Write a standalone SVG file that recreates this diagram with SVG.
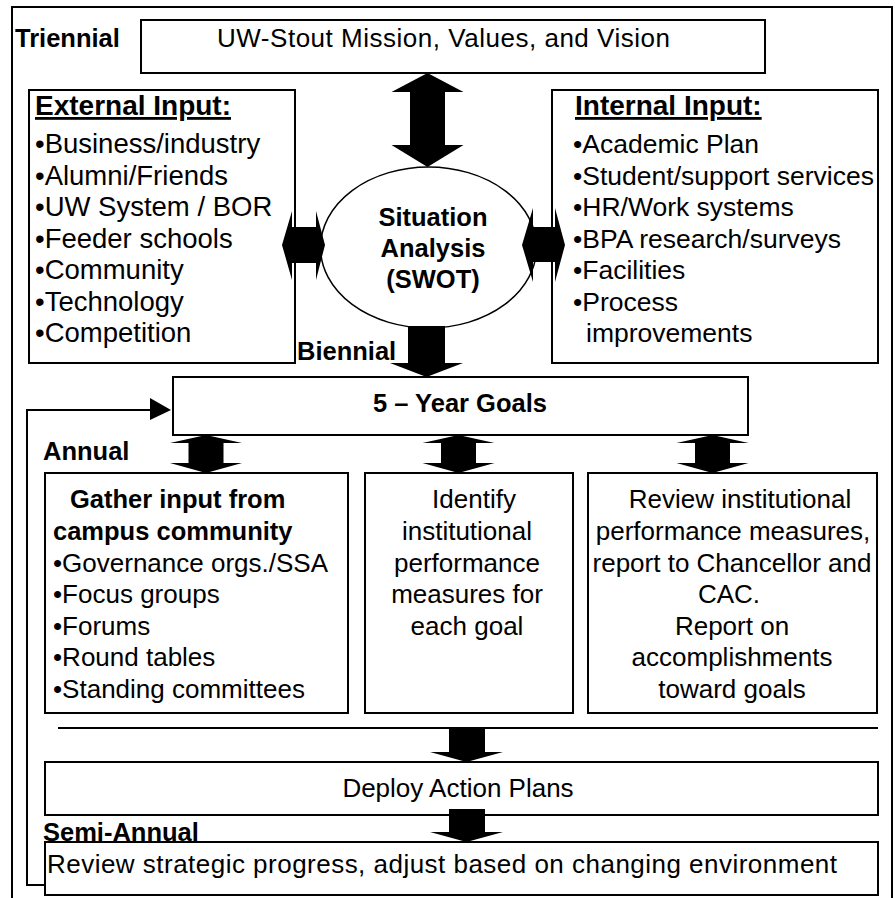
<svg xmlns="http://www.w3.org/2000/svg" width="895" height="898" viewBox="0 0 895 898">
<style>
.box{fill:#fff;stroke:#000;stroke-width:2}
.t{font-family:"Liberation Sans",Arial,sans-serif;font-size:26px;fill:#000}
.b{font-weight:bold;font-size:25.5px}
.h{font-weight:bold;font-size:28px;text-decoration:underline}
.ex{font-size:27.5px}
.in{font-size:26.5px}
.c{text-anchor:middle}
.ar{fill:#000;stroke:none}
.ln{fill:none;stroke:#000;stroke-width:2}
</style>
<rect width="895" height="898" fill="#fff"/>
<path class="ln" d="M12,898 V7 H892 V898"/>

<text class="t b" x="15" y="47">Triennial</text>
<text class="t b" x="297" y="360">Biennial</text>
<text class="t b" x="43" y="460">Annual</text>
<text class="t b" x="43" y="841">Semi-Annual</text>

<g id="mission">
<rect class="box" x="141" y="20" width="624" height="53"/>
<text class="t" x="217" y="47" textLength="453" lengthAdjust="spacing">UW-Stout Mission, Values, and Vision</text>
</g>

<g id="external">
<rect class="box" x="29" y="90" width="266" height="273"/>
<text class="t h" x="35" y="115">External Input:</text>
<text class="t ex" x="35" y="153">•Business/industry</text>
<text class="t ex" x="35" y="184.5">•Alumni/Friends</text>
<text class="t ex" x="35" y="216">•UW System / BOR</text>
<text class="t ex" x="35" y="247.5">•Feeder schools</text>
<text class="t ex" x="35" y="279">•Community</text>
<text class="t ex" x="35" y="310.5">•Technology</text>
<text class="t ex" x="35" y="342">•Competition</text>
</g>

<g id="internal">
<rect class="box" x="552" y="90" width="326" height="273"/>
<text class="t h" x="575" y="115">Internal Input:</text>
<text class="t in" x="573" y="153">•Academic Plan</text>
<text class="t in" x="573" y="184.5">•Student/support services</text>
<text class="t in" x="573" y="216">•HR/Work systems</text>
<text class="t in" x="573" y="247.5">•BPA research/surveys</text>
<text class="t in" x="573" y="279">•Facilities</text>
<text class="t in" x="573" y="310.5">•Process</text>
<text class="t in" x="586" y="342">improvements</text>
</g>

<g id="swot">
<ellipse cx="428.5" cy="247.5" rx="108" ry="80.5" fill="#fff" stroke="#000" stroke-width="1.5"/>
<text class="t b c" x="433" y="226">Situation</text>
<text class="t b c" x="433" y="257">Analysis</text>
<text class="t b c" x="433" y="288">(SWOT)</text>
</g>

<g id="goals">
<rect class="box" x="173" y="377" width="575" height="58"/>
<text class="t b c" x="460" y="412">5 – Year Goals</text>
</g>

<g id="gather">
<rect class="box" x="45" y="473" width="303" height="240"/>
<text class="t b" x="70" y="508">Gather input from</text>
<text class="t b" x="53" y="540">campus community</text>
<text class="t" x="53" y="571.5">•Governance orgs./SSA</text>
<text class="t" x="53" y="603">•Focus groups</text>
<text class="t" x="53" y="634.5">•Forums</text>
<text class="t" x="53" y="666">•Round tables</text>
<text class="t" x="53" y="697.5">•Standing committees</text>
</g>

<g id="identify">
<rect class="box" x="365" y="473" width="208" height="240"/>
<text class="t c" x="474" y="508">Identify</text>
<text class="t c" x="467" y="540">institutional</text>
<text class="t c" x="467" y="571.5">performance</text>
<text class="t c" x="467" y="603">measures for</text>
<text class="t c" x="467" y="634.5">each goal</text>
</g>

<g id="review-measures">
<rect class="box" x="588" y="473" width="289" height="240"/>
<text class="t c" x="740" y="508">Review institutional</text>
<text class="t c" x="733" y="540">performance measures,</text>
<text class="t c" x="732" y="571.5">report to Chancellor and</text>
<text class="t c" x="729" y="603">CAC.</text>
<text class="t c" x="732" y="634.5">Report on</text>
<text class="t c" x="732" y="666">accomplishments</text>
<text class="t c" x="732" y="697.5">toward goals</text>
</g>

<g id="deploy">
<rect class="box" x="45" y="762" width="833" height="53"/>
<text class="t c" x="458" y="797">Deploy Action Plans</text>
</g>

<g id="review-progress">
<rect class="box" x="45" y="842" width="833" height="53"/>
<text class="t" x="47" y="873" textLength="790" lengthAdjust="spacing">Review strategic progress, adjust based on changing environment</text>
</g>

<g id="connectors">
<line class="ln" x1="58" y1="728" x2="878" y2="728"/>
<polygon class="ar" points="427.5,73 463.5,92 445,92 445,145 463.5,145 427.5,167 391.5,145 410,145 410,92 391.5,92"/>
<polygon class="ar" points="408,326 445,326 445,363 463,363 426.5,377 390,363 408,363"/>
<polygon class="ar" points="282,245 292,211 292,227 316,227 316,211 325,245 316,280 316,263 292,263 292,280"/>
<polygon class="ar" points="522,245 533,208 533,227 555,227 555,208 565,245 555,282 555,262 533,262 533,282"/>
<polygon class="ar" points="206,435 242,443 223.5,443 223.5,463 242,463 206,473 170,463 188.5,463 188.5,443 170,443"/>
<polygon class="ar" points="458.5,435 494.5,443 476,443 476,463 494.5,463 458.5,473 422.5,463 441,463 441,443 422.5,443"/>
<polygon class="ar" points="712.5,435 748.5,443 730,443 730,463 748.5,463 712.5,473 676.5,463 695,463 695,443 676.5,443"/>
<polygon class="ar" points="449,729 485,729 485,752 503,752 466.5,762 430,752 449,752"/>
<polygon class="ar" points="449,809 485,809 485,832 503,832 466.5,842 430,832 449,832"/>
<path class="ln" d="M45,885 H27 V410 H152"/>
<polygon class="ar" points="150,398 171,410 150,420"/>
</g>
</svg>
